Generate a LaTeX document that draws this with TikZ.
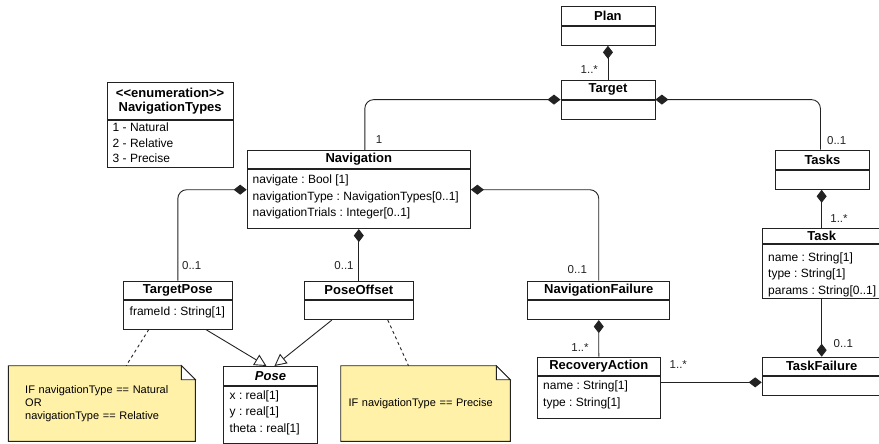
\documentclass[tikz,border=0pt]{standalone}
\usepackage{fontspec}
\setmainfont{Liberation Sans}
\usetikzlibrary{arrows.meta,backgrounds}
\definecolor{notefill}{RGB}{255,241,168}
\definecolor{umlline}{RGB}{34,34,34}
\frenchspacing

\begin{document}
\begin{tikzpicture}[x=1pt,y=-1pt,
   head/.style={draw=umlline,line width=0.9pt,anchor=north west,inner sep=0pt,
     font=\fontsize{13}{14}\selectfont\bfseries},
   body/.style={draw=umlline,line width=0.9pt,anchor=north west,inner sep=0pt},
   attr/.style={anchor=west,inner sep=0pt,align=left,font=\fontsize{12}{16.5}\selectfont},
   mult/.style={inner sep=0pt,text=umlline,font=\fontsize{11.5}{13}\selectfont},
   comp/.style={draw=umlline,line width=0.9pt,-{Diamond[length=13pt,width=10pt]}},
   gen/.style={draw=umlline,line width=0.9pt,-{Triangle[open,length=12pt,width=12pt,fill=white]}},
   notelink/.style={draw=umlline,line width=0.9pt,dash pattern=on 3pt off 3pt},
   notebox/.style={anchor=north west,inner ysep=0pt,align=left,font=\fontsize{11}{12.7}\selectfont},
   noteline/.style={draw=umlline,line width=0.9pt}]
   \useasboundingbox (0,0) rectangle (879,444);

   % Classes
   \node[head,minimum width=94,minimum height=19] (plan) at (560.5,6) {Plan};
   \node[body,minimum width=94,minimum height=19] (planb) at (plan.south west) {};

   \node[head,minimum width=94,minimum height=18.7] (targ) at (560.5,80) {Target};
   \node[body,minimum width=94,minimum height=19] (targb) at (targ.south west) {};

   \node[head,minimum width=94,minimum height=19.3] (tasks) at (775,149.7) {Tasks};
   \node[body,minimum width=94,minimum height=19] (tasksb) at (tasks.south west) {};

   \node[head,align=center,minimum width=126,minimum height=37] (navtypes) at (106.7,82)
     {<\kern0pt<enumeration>\kern0pt>\\NavigationTypes};
   \node[body,minimum width=126,minimum height=46.7] (navtypesb) at (navtypes.south west) {};
   \node[attr,font=\fontsize{12}{15.5}\selectfont] (navtypesa) at (112.5,142.8)
     {1 - Natural\\2 - Relative\\3 - Precise};

   \node[head,minimum width=223.3,minimum height=18.3] (nav) at (246.7,150) {Navigation};
   \node[body,minimum width=223.3,minimum height=59] (navb) at (nav.south west) {};
   \node[attr] (nava) at (252.5,197) {navigate : Bool [1]\\navigationType : NavigationTypes[0..1]\\navigationTrials : Integer[0..1]};

   \node[head,minimum width=108.7,minimum height=18.3] (tpose) at (123,280.7) {TargetPose};
   \node[body,minimum width=108.7,minimum height=28.7] (tposeb) at (tpose.south west) {};
   \node[attr] (tposea) at (129.5,312) {frameId : String[1]};

   \node[head,minimum width=108.7,minimum height=18.3] (poff) at (304,280.7) {PoseOffset};
   \node[body,minimum width=108.7,minimum height=19.3] (poffb) at (poff.south west) {};

   \node[head,minimum width=93.4,minimum height=19] (pose) at (223.3,366) {\itshape Pose};
   \node[body,minimum width=93.4,minimum height=56.7] (poseb) at (pose.south west) {};
   \node[attr] (posea) at (229.5,412.8) {x : real[1]\\y : real[1]\\theta : real[1]};

   \node[head,minimum width=142,minimum height=18.6] (nfail) at (527.3,280.7) {NavigationFailure};
   \node[body,minimum width=142,minimum height=19] (nfailb) at (nfail.south west) {};

   \node[head,minimum width=123.3,minimum height=18.3] (rec) at (536.7,356.7) {RecoveryAction};
   \node[body,minimum width=123.3,minimum height=41.7] (recb) at (rec.south west) {};
   \node[attr] (reca) at (543,394.8) {name : String[1]\\type : String[1]};

   \node[head,minimum width=119,minimum height=15.6] (task) at (761.7,227.7) {Task};
   \node[body,minimum width=119,minimum height=54] (taskb) at (task.south west) {};
   \node[attr] (taska) at (768,274.8) {name : String[1]\\type : String[1]\\params : String[0..1]};

   \node[head,minimum width=119,minimum height=18.3] (tfail) at (761.7,356.7) {TaskFailure};
   \node[body,minimum width=119,minimum height=19] (tfailb) at (tfail.south west) {};

   % Notes
   \node[notebox,inner xsep=16.7pt,text width=153.3pt,minimum height=75.3] (note1) at (8.3,365.7)
     {IF navigationType == Natural\\OR\\navigationType == Relative};
   \node[notebox,inner xsep=7.6pt,text width=154pt,minimum height=75.3] (note2) at (340.7,365.7)
     {IF navigationType == Precise};
   \begin{scope}[on background layer]
     \foreach \n in {note1,note2} {
       \filldraw[noteline,fill=notefill] (\n.north west) -- ([xshift=-14pt]\n.north east)
         -- ([yshift=-14pt]\n.north east) -- (\n.south east) -- (\n.south west) -- cycle;
       \filldraw[noteline,fill=white] ([xshift=-14pt]\n.north east)
         -- ([xshift=-14pt,yshift=-14pt]\n.north east) -- ([yshift=-14pt]\n.north east) -- cycle;
     }
   \end{scope}

   % Compositions
   \draw[comp] (targ.north) -- (planb.south);
   \draw[comp,rounded corners=9] ([xshift=6pt]nav.north) |- (targ.south west);
   \draw[comp,rounded corners=9] ([xshift=-2pt]tasks.north) |- (targ.south east);
   \draw[comp,rounded corners=9] (tpose.north) |- ([yshift=-20.5pt]nav.south west);
   \draw[comp,rounded corners=9] (nfail.north) |- ([yshift=-20.5pt]nav.south east);
   \draw[comp] (poff.north) -- (navb.south);
   \draw[comp] (rec.north) -- (nfailb.south);
   \draw[comp] (task.north) -- (task.north |- tasksb.south);
   \draw[comp] (taskb.south) -- (tfail.north);
   \coordinate (tfin) at ([yshift=3.5pt]tfailb.west);
   \draw[comp] (recb.east |- tfin) -- (tfin);

   % Generalizations and note links
   \draw[gen] ([xshift=28pt]tposeb.south) -- ([xshift=-4pt]pose.north);
   \draw[gen] ([xshift=-27pt]poffb.south) -- ([xshift=4pt]pose.north);
   \draw[notelink] ([xshift=-29pt]tposeb.south) -- ([xshift=24.3pt]note1.north);
   \draw[notelink] ([xshift=29pt]poffb.south) -- ([xshift=-17pt]note2.north);

   % Multiplicities
   \node[mult] (m1) at (589.3,69.3) {1..*};
   \node[mult] (m2) at (379,140) {1};
   \node[mult] (m3) at (836.7,141) {0..1};
   \node[mult] (m4) at (191.7,265.7) {0..1};
   \node[mult] (m5) at (344,266) {0..1};
   \node[mult] (m6) at (577.3,270) {0..1};
   \node[mult] (m7) at (839,219) {1..*};
   \node[mult] (m8) at (580,348) {1..*};
   \node[mult] (m9) at (678.3,365) {1..*};
   \node[mult] (m10) at (843.3,343.3) {0..1};
\end{tikzpicture}
\end{document}
